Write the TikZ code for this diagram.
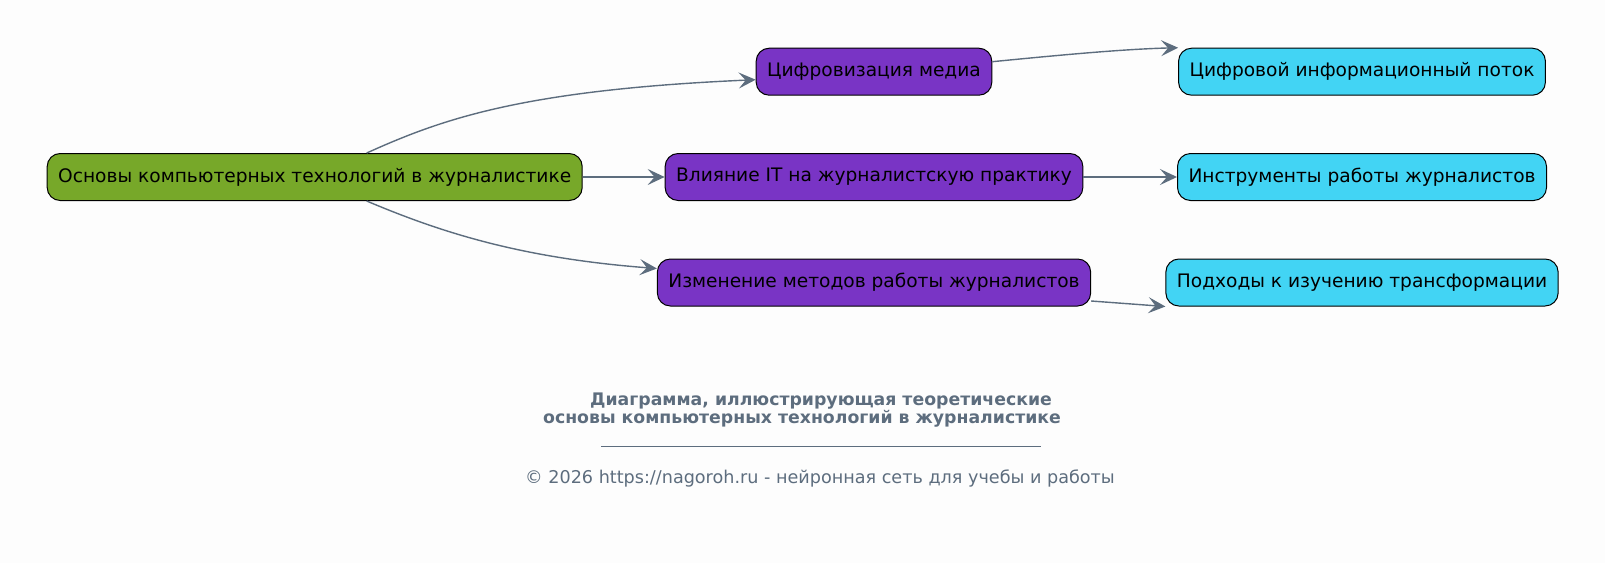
\documentclass[tikz,border=0pt]{standalone}
\usepackage{fontspec}
\setmainfont{DejaVu Sans}
\usetikzlibrary{positioning,arrows.meta}
\definecolor{bgcol}{HTML}{FDFDFD}
\definecolor{rootcol}{HTML}{77A829}
\definecolor{midcol}{HTML}{7934C5}
\definecolor{leafcol}{HTML}{42D4F4}
\definecolor{edgecol}{HTML}{5D6D7E}
\tikzset{
  box/.style={draw=black, line width=1pt, rounded corners=13pt, minimum height=47pt, inner xsep=11pt, font=\fontsize{18.6}{22}\selectfont, text=black},
  edge/.style={draw=edgecol, line width=1.4pt, -{Stealth[length=17pt, width=16pt, inset=7pt]}},
}
\begin{document}
\begin{tikzpicture}[x=1pt, y=-1pt]
		\useasboundingbox[fill=bgcol] (0,0) rectangle (1605,563);
		\node (root) [box, fill=rootcol] at (314.7,177) {Основы компьютерных технологий в журналистике};
		\node (m2) [box, fill=midcol] at (874,177) {Влияние IT на журналистскую практику};
		\node (m1) [box, fill=midcol] at (874,71.7) {Цифровизация медиа};
		\node (m3) [box, fill=midcol] at (874,282.5) {Изменение методов работы журналистов};
		\node (r2) [box, fill=leafcol] at (1362,177) {Инструменты работы журналистов};
		\node (r1) [box, fill=leafcol] at (1362,71.7) {Цифровой информационный поток};
		\node (r3) [box, fill=leafcol] at (1362,282.5) {Подходы к изучению трансформации};
		\draw[edge] ([xshift=52pt]root.north) .. controls (440,120) and (520,90) .. ([yshift=-8pt]m1.west);
		\draw[edge] (root) -- (m2);
		\draw[edge] ([xshift=52pt]root.south) .. controls (440,232) and (520,258) .. ([yshift=14pt]m3.west);
		\draw[edge] ([yshift=10pt]m1.east) .. controls (1080,53) and (1130,49) .. (r1.north west);
		\draw[edge] (m2) -- (r2);
		\draw[edge] ([yshift=-18.5pt]m3.east) -- (r3.south west);
		% title and footer
		\node (title1) [text=edgecol, font=\fontsize{17.3}{20}\selectfont\bfseries] at (821,401) {Диаграмма, иллюстрирующая теоретические};
		\node (title2) [text=edgecol, font=\fontsize{17.3}{20}\selectfont\bfseries] at (802,418.7) {основы компьютерных технологий в журналистике};
		\draw[edgecol, line width=0.8pt] (601,446.3) -- (1041,446.3);
		\node (footer) [text=edgecol, font=\fontsize{17.6}{21}\selectfont] at (820,478) {© 2026 https://nagoroh.ru - нейронная сеть для учебы и работы};
\end{tikzpicture}
\end{document}
